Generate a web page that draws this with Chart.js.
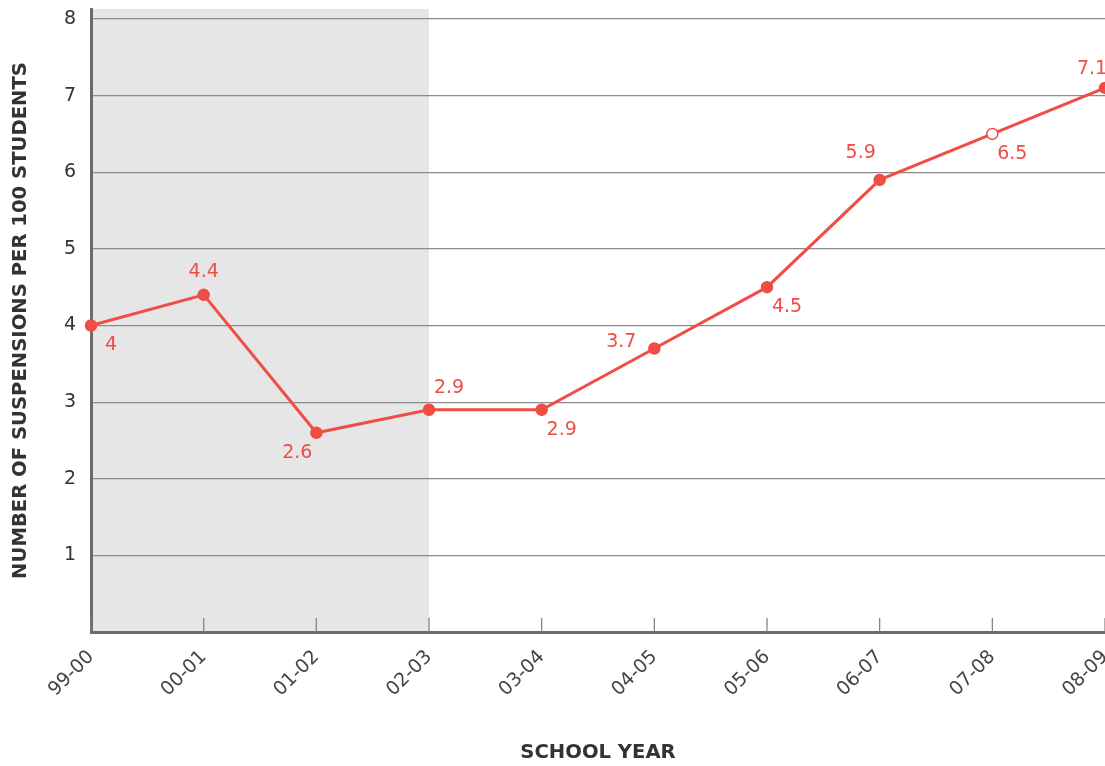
<!DOCTYPE html>
<html>
<head>
<meta charset="utf-8">
<script src="https://cdn.jsdelivr.net/npm/chart.js@4.4.1/dist/chart.umd.min.js"></script>
<style>
  html, body { margin: 0; padding: 0; background: #fff; }
  #wrap { width: 1105px; height: 766px; }
</style>
</head>
<body>
<div id="wrap"><canvas id="grafico"></canvas></div>
<script>
// anos letivos e suspensões por 100 alunos
const anos = ['99-00', '00-01', '01-02', '02-03', '03-04', '04-05', '05-06', '06-07', '07-08', '08-09'];
const suspensoes = [4, 4.4, 2.6, 2.9, 2.9, 3.7, 4.5, 5.9, 6.5, 7.1];
const rotulos = ['4', '4.4', '2.6', '2.9', '2.9', '3.7', '4.5', '5.9', '6.5', '7.1'];
const posRotulo = ['br', 'a', 'bl', 'ar', 'br', 'l', 'br', 'al', 'br', 'fim'];
const pontoVazado = [false, false, false, false, false, false, false, false, true, false];
const ultimoAnoSombreado = '02-03';
const ticksY = [1, 2, 3, 4, 5, 6, 7, 8];

const VERMELHO = '#ef4d45';
const FONTE = "'DejaVu Sans', sans-serif";

// deslocamento de cada rótulo em relação ao ponto
const deslocamentos = {
  br: [20, 20], a: [0, -23], bl: [-19, 20], ar: [20, -22], l: [-33, -6], al: [-19, -27], fim: [-13, -19]
};

// faixa cinza no começo do período
const faixaCinza = {
  id: 'faixaCinza',
  beforeDraw(chart) {
    const { ctx, chartArea, scales } = chart;
    const xFim = scales.x.getPixelForValue(anos.indexOf(ultimoAnoSombreado));
    ctx.save();
    ctx.fillStyle = '#e6e6e6';
    ctx.fillRect(chartArea.left, chartArea.top, xFim - chartArea.left, chartArea.bottom - chartArea.top);
    ctx.restore();
  }
};

// tracinhos do eixo x para dentro do gráfico
const tracosX = {
  id: 'tracosX',
  beforeDatasetsDraw(chart) {
    const { ctx, chartArea, scales } = chart;
    ctx.save();
    ctx.strokeStyle = '#7d7d7d';
    ctx.lineWidth = 1.2;
    scales.x.ticks.forEach((t, i) => {
      const x = scales.x.getPixelForTick(i);
      ctx.beginPath();
      ctx.moveTo(x, chartArea.bottom - 14);
      ctx.lineTo(x, chartArea.bottom);
      ctx.stroke();
    });
    ctx.restore();
  }
};

// valores escritos ao lado de cada ponto
const rotulosValores = {
  id: 'rotulosValores',
  afterDatasetsDraw(chart) {
    const { ctx } = chart;
    const meta = chart.getDatasetMeta(0);
    ctx.save();
    ctx.fillStyle = VERMELHO;
    ctx.font = '19px ' + FONTE;
    ctx.textAlign = 'center';
    ctx.textBaseline = 'middle';
    meta.data.forEach((p, i) => {
      const [dx, dy] = deslocamentos[posRotulo[i]];
      ctx.fillText(rotulos[i], p.x + dx, p.y + dy);
    });
    ctx.restore();
  }
};

new Chart(document.getElementById('grafico'), {
  type: 'line',
  data: {
    labels: anos,
    datasets: [{
      data: suspensoes,
      borderColor: VERMELHO,
      borderWidth: 3,
      pointRadius: 5.5,
      pointBorderWidth: 1.5,
      pointBorderColor: VERMELHO,
      pointBackgroundColor: pontoVazado.map(v => v ? '#fff' : VERMELHO),
      tension: 0,
      clip: false
    }]
  },
  options: {
    responsive: true,
    maintainAspectRatio: false,
    animation: false,
    layout: { autoPadding: false, padding: { top: 9, right: 0, left: 0, bottom: 0 } },
    plugins: { legend: { display: false }, tooltip: { enabled: false } },
    scales: {
      x: {
        offset: false,
        grid: { display: true, drawOnChartArea: false, drawTicks: false },
        border: { display: true, color: '#6b6b6b', width: 3 },
        ticks: {
          color: '#444',
          font: { family: FONTE, size: 19 },
          maxRotation: 45,
          minRotation: 45,
          padding: 14,
          autoSkip: false
        },
        title: {
          display: true,
          text: 'SCHOOL YEAR',
          color: '#333',
          font: { family: FONTE, size: 19.6, weight: 'bold' },
          padding: { top: 0, bottom: 1 }
        },
        afterFit(s) {
          s.height = 134;
          s.paddingLeft = 0;
          s.paddingRight = 0;
        }
      },
      y: {
        min: 0,
        max: 8.13,
        afterBuildTicks(s) {
          s.ticks = ticksY.map(v => ({ value: v }));
        },
        grid: { color: '#8c8c8c', lineWidth: 1.2, drawTicks: false },
        border: { display: true, color: '#6b6b6b', width: 3 },
        ticks: {
          color: '#333',
          font: { family: FONTE, size: 19 },
          padding: 15
        },
        title: {
          display: true,
          text: 'NUMBER OF SUSPENSIONS PER 100 STUDENTS',
          color: '#333',
          font: { family: FONTE, size: 19.6, weight: 'bold' },
          padding: { top: 9, bottom: 0 }
        },
        afterFit(s) {
          s.width = 91;
          s.paddingTop = 0;
          s.paddingBottom = 0;
        }
      }
    }
  },
  plugins: [faixaCinza, tracosX, rotulosValores]
});
</script>
</body>
</html>
